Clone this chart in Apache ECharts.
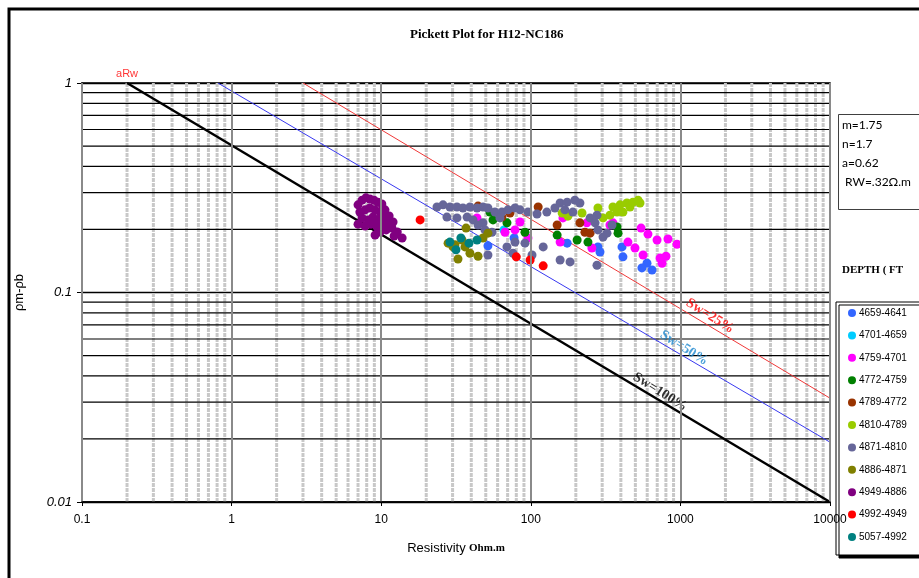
<!DOCTYPE html>
<html>
<head>
<meta charset="utf-8">
<script src="https://cdn.jsdelivr.net/npm/echarts@6/dist/echarts.min.js"></script>
<style>
  html, body { margin: 0; padding: 0; background: #fff; }
  #chart { width: 919px; height: 578px; }
</style>
</head>
<body>
<div id="chart"></div>
<script>
// tick labels
const xTickLabels = ['0.1', '1', '10', '100', '1000', '10000'];
const yTickLabels = ['1', '0.1', '0.01'];

// depth intervals (legend order) and colours
const depthNames = ['4659-4641', '4701-4659', '4759-4701', '4772-4759', '4789-4772', '4810-4789',
  '4871-4810', '4886-4871', '4949-4886', '4992-4949', '5057-4992'];
const depthColors = ['#3366FF', '#00CCFF', '#FF00FF', '#008000', '#993300', '#99CC00',
  '#666699', '#808000', '#800080', '#FF0000', '#008080'];

// [resistivity, rho m - rho b]
const d4659 = [[51.7,0.167],[77.3,0.182],[175,0.172],[281,0.165],[290,0.156],[407,0.165],[413,0.148],[598,0.138],[553,0.131],[646,0.128]];
const d4701 = [[66.2,0.199]];
const d4759 = [[67.2,0.194],[78.4,0.199],[84.7,0.217],[95.7,0.182],[157,0.174],[164,0.227],[237,0.215],[256,0.163],[338,0.210],[354,0.215],
  [546,0.203],[607,0.190],[698,0.178],[826,0.180],[949,0.170],[446,0.174],[497,0.163],[563,0.151],[731,0.146],[801,0.149],[754,0.138],[43.7,0.227]];
const d4772 = [[53.3,0.242],[55.9,0.222],[69.3,0.215],[91.4,0.194],[150,0.188],[204,0.178],[241,0.174],[377,0.2055],[383,0.192]];
const d4789 = [[44.4,0.2585],[64.1,0.229],[72.6,0.2395],[112,0.256],[150,0.210],[213,0.215],[230,0.194],[249,0.192]];
const d4810 = [[162,0.2395],[177,0.2315],[220,0.2395],[281,0.253],[304,0.227],[338,0.234],[354,0.256],[377,0.242],[395,0.262],[413,0.242],
  [439,0.2675],[460,0.256],[482,0.270],[521,0.276],[537,0.2675]];
const d4871 = [[23.6,0.256],[25.9,0.262],[28.8,0.256],[32.1,0.256],[35.2,0.253],[39.2,0.256],[43.7,0.253],[47.9,0.256],[51.7,0.253],[57.6,0.242],
  [64.1,0.242],[27.5,0.229],[32.1,0.227],[37.5,0.229],[41.1,0.222],[47.9,0.215],[49.4,0.199],[44.4,0.210],[55.0,0.194],[62.2,0.227],
  [70.4,0.248],[78.4,0.253],[84.7,0.248],[95.7,0.242],[110,0.237],[128,0.242],[145,0.253],[157,0.2675],[175,0.270],[197,0.276],
  [213,0.2675],[191,0.242],[169,0.248],[249,0.227],[277,0.234],[269,0.215],[281,0.199],[304,0.184],[323,0.192],[349,0.210],
  [69.3,0.165],[76.0,0.154],[78.4,0.174],[91.4,0.172],[121,0.165],[101.9,0.151],[157,0.143],[183,0.140],[277,0.135],[51.7,0.151]];
const d4886 = [[28,0.172],[30.2,0.165],[32.6,0.1445],[34.7,0.178],[36.9,0.203],[39.2,0.154],[44.4,0.149],[47.9,0.182],[51.7,0.192],[31.1,0.169],[36.3,0.165]];
const d4949 = [[7.0,0.262],[7.45,0.276],[7.9,0.283],[8.4,0.2795],[8.95,0.276],[9.5,0.270],[10.1,0.2646],[7.2,0.242],[7.8,0.248],[8.4,0.253],
  [9.1,0.248],[9.8,0.242],[10.6,0.248],[7.45,0.227],[8.2,0.222],[8.8,0.229],[9.5,0.222],[10.4,0.227],[11.3,0.232],[7.0,0.212],
  [7.8,0.2077],[8.55,0.212],[9.4,0.2055],[10.3,0.210],[11.1,0.215],[12.0,0.217],[9.8,0.1944],[10.8,0.199],[11.8,0.203],[12.8,0.1944],
  [12.2,0.186],[13.8,0.182],[9.1,0.188]];
const d4992 = [[18.2,0.222],[80,0.148],[99,0.143],[121,0.134]];
const d5057 = [[28.8,0.174],[31.6,0.160],[34.1,0.182],[38.6,0.172],[43.7,0.178]];
const depthData = [d4659, d4701, d4759, d4772, d4789, d4810, d4871, d4886, d4949, d4992, d5057];

// saturation lines (end points)
const sw100 = [[0.2, 1], [10000, 0.01]];
const sw50 = [[0.81, 1], [10000, 0.0193]];
const sw25 = [[3.0, 1], [10000, 0.0313]];
// line labels: [x, y, text]
const lineLabels = [[731, 0.0335, 'Sw=100%'], [1057, 0.0543, 'Sw=50%'], [1578, 0.0772, 'Sw=25%']];
const lineLabelColors = ['#000000', '#1E88D0', '#FF0000'];

const params = ['m=1.75', 'n=1.7', 'a=0.62', ' RW=.32\u03A9.m'];

// minor grid lines at 2..9 of each decade
const vMinor = [], hMinor = [];
[0.1, 1, 10, 100, 1000].forEach(d => { for (let k = 2; k <= 9; k++) vMinor.push(d * k); });
[0.01, 0.1].forEach(d => { for (let k = 2; k <= 9; k++) hMinor.push(d * k); });

const chart = echarts.init(document.getElementById('chart'));

// draws full-height / full-width lines through the axes
function gridSeries(values, vertical, style) {
  return {
    type: 'custom', silent: true, z: 1,
    data: values.map(v => vertical ? [v, 0.1] : [1, v]),
    encode: { x: 0, y: 1 },
    renderItem: (params, api) => {
      let p1, p2;
      if (vertical) {
        p1 = api.coord([api.value(0), 1]);
        p2 = api.coord([api.value(0), 0.01]);
      } else {
        p1 = api.coord([0.1, api.value(1)]);
        p2 = api.coord([10000, api.value(1)]);
      }
      return { type: 'line', shape: { x1: p1[0], y1: p1[1], x2: p2[0], y2: p2[1] }, style: style };
    }
  };
}

const series = [];
series.push(gridSeries(vMinor, true, { stroke: '#C8C8C8', lineWidth: 3, lineDash: [4, 1], fill: null }));
series.push(gridSeries(hMinor, false, { stroke: '#000', lineWidth: 1.2, fill: null }));

series.push({ type: 'line', data: sw100, symbol: 'none', silent: true, z: 3, lineStyle: { color: '#000', width: 2.5 } });
series.push({ type: 'line', data: sw50, symbol: 'none', silent: true, z: 3, lineStyle: { color: '#3838F0', width: 1 } });
series.push({ type: 'line', data: sw25, symbol: 'none', silent: true, z: 3, lineStyle: { color: '#F03838', width: 1 } });

depthNames.forEach((name, i) => {
  series.push({
    name: name, type: 'scatter', data: depthData[i], symbol: 'circle', symbolSize: 9, z: 4,
    itemStyle: { color: depthColors[i], opacity: 1, borderWidth: 0 }
  });
});

lineLabels.forEach((l, i) => {
  series.push({
    type: 'scatter', data: [[l[0], l[1]]], symbolSize: 0, silent: true, z: 5,
    label: {
      show: true, position: 'inside', rotate: -32, formatter: l[2],
      fontFamily: 'Liberation Serif', fontWeight: 'bold', fontSize: 14, color: lineLabelColors[i]
    }
  });
});

series.push({
  type: 'scatter', data: [sw100[0]], symbolSize: 0, silent: true, z: 5,
  label: { show: true, position: 'top', distance: 4, formatter: 'aRw', fontFamily: 'Liberation Sans', fontSize: 11, color: '#FF0000' }
});

const option = {
  animation: false,
  backgroundColor: '#fff',
  title: {
    text: 'Pickett Plot for H12-NC186', left: 405, top: 23,
    textStyle: { fontFamily: 'Liberation Serif', fontWeight: 'bold', fontSize: 13, color: '#000' }
  },
  grid: { left: 82, right: 89, top: 83, bottom: 76, show: true, borderColor: '#000', borderWidth: 1.5 },
  legend: {
    z: 2,
    data: depthNames, orient: 'vertical', left: 836, top: 302,
    padding: [5, 30, 12, 12], itemGap: 10.4, itemWidth: 8, itemHeight: 8, icon: 'circle',
    borderColor: '#000', borderWidth: 1, backgroundColor: '#fff',
    shadowColor: '#000', shadowOffsetX: 3, shadowOffsetY: 3, shadowBlur: 0,
    textStyle: { fontFamily: 'Liberation Sans', fontSize: 10, color: '#000', lineHeight: 12, padding: [0, 0, 0, -2] }
  },
  xAxis: {
    z: 10,
    type: 'log', logBase: 10, min: 0.1, max: 10000,
    name: '{a|Resistivity} {b|Ohm.m}', nameLocation: 'middle', nameGap: 40,
    nameTextStyle: {
      rich: {
        a: { fontFamily: 'Liberation Sans', fontSize: 13, color: '#000' },
        b: { fontFamily: 'Liberation Serif', fontSize: 11, color: '#000', fontWeight: 'bold' }
      }
    },
    axisLine: { show: true, lineStyle: { color: '#000', width: 1.5 } },
    axisTick: { show: true, length: 4, lineStyle: { color: '#000' } },
    axisLabel: {
      margin: 12, fontFamily: 'Liberation Sans', fontSize: 12, color: '#000',
      formatter: v => xTickLabels[Math.round(Math.log10(v)) + 1]
    },
    splitLine: { show: true, lineStyle: { color: '#8A8A8A', width: 2 } }
  },
  yAxis: {
    type: 'log', logBase: 10, min: 0.01, max: 1,
    name: '\u03C1m-\u03C1b', nameLocation: 'middle', nameGap: 56,
    nameTextStyle: { fontFamily: 'Liberation Sans', fontSize: 13, color: '#000' },
    axisLine: { show: true, lineStyle: { color: '#000', width: 1.5 } },
    axisTick: { show: true, length: 5, lineStyle: { color: '#000' } },
    axisLabel: {
      margin: 10, fontFamily: 'Liberation Sans', fontSize: 13, fontStyle: 'italic', color: '#000',
      formatter: v => yTickLabels[-Math.round(Math.log10(v))]
    },
    splitLine: { show: true, lineStyle: { color: '#000', width: 1.4 } }
  },
  graphic: [
    { type: 'rect', silent: true, z: 100, shape: { x: 9, y: 9, width: 1000, height: 1000 },
      style: { fill: 'none', stroke: '#000', lineWidth: 3 } },
    { type: 'rect', silent: true, z: 100, shape: { x: 838.5, y: 114.5, width: 100, height: 95 },
      style: { fill: '#fff', stroke: '#404040', lineWidth: 1 } },
    ...params.map((t, i) => ({
      type: 'text', silent: true, z: 101, left: 842, top: 119 + i * 19,
      style: { text: t, font: '12px Lato', fill: '#000' }
    })),
    { type: 'text', silent: true, z: 101, left: 842, top: 265,
      style: { text: 'DEPTH ( FT', font: 'bold 11px "Liberation Serif"', fill: '#000' } }
  ],
  series: series
};

chart.setOption(option);
</script>
</body>
</html>
